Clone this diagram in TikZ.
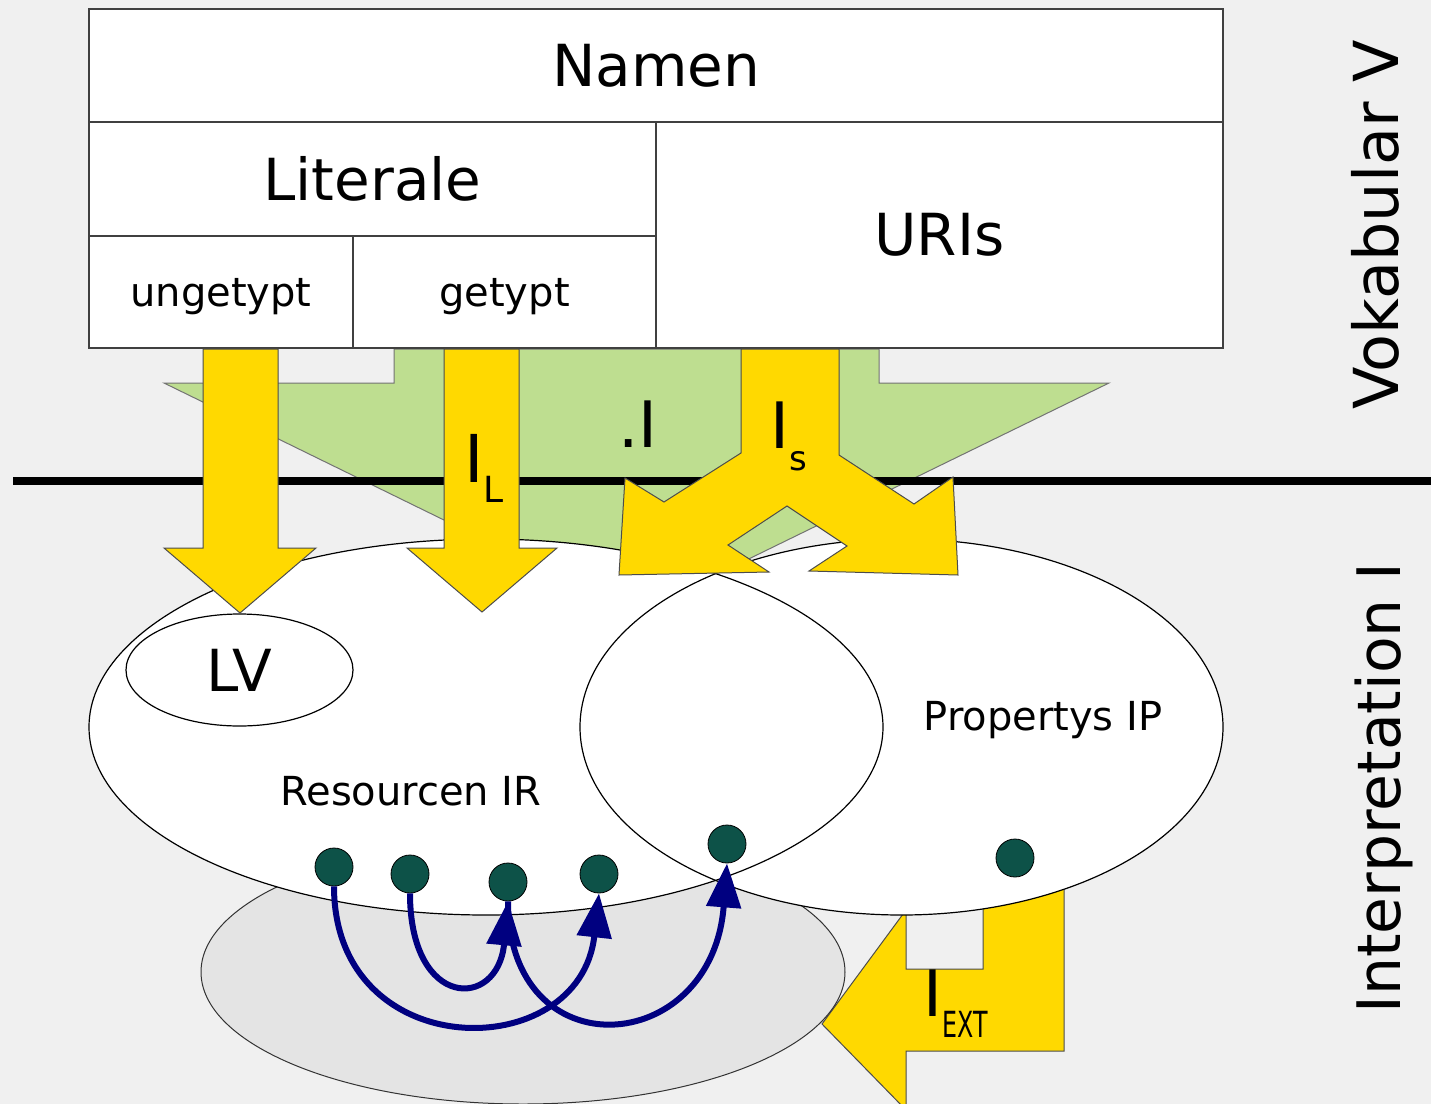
\documentclass[tikz,border=0pt]{standalone}
\usepackage{fontspec}
\setmainfont{DejaVu Sans}
\usetikzlibrary{shapes.geometric,arrows.meta}
\definecolor{bgc}{RGB}{240,240,240}
\definecolor{lgreen}{RGB}{190,222,144}
\definecolor{ayellow}{RGB}{255,217,0}
\definecolor{ellgray}{RGB}{228,228,228}
\definecolor{dotgreen}{RGB}{13,82,72}
\definecolor{navyblue}{RGB}{0,0,128}
\newcommand\fsz[1]{\fontsize{#1}{#1}\selectfont}
\begin{document}
\begin{tikzpicture}[x=0.5pt,y=-0.5pt,
  cell/.style={draw=black!75, line width=0.6pt, fill=white, inner sep=0pt, anchor=center},
  yarrow/.style={fill=ayellow, draw=black!70, line width=0.5pt},
  gdot/.style={circle, fill=dotgreen, draw=black, line width=0.4pt, inner sep=0pt, minimum size=19pt},
  rel/.style={draw=navyblue, line width=3pt, -{Triangle[length=22pt,width=17pt]}},
  blob/.style={ellipse, fill=white, inner sep=0pt},
  outl/.style={draw=black, line width=0.6pt}
]
\useasboundingbox (0,0) rectangle (1431,1104);
\fill[bgc] (0,0) rectangle (1431,1104);
\clip (0,0) rectangle (1431,1104);

% green arrow (.I)
\draw[fill=lgreen, draw=black!55, line width=0.5pt] (394,349) -- (879,349) -- (879,383) -- (1109,383) -- (636,614) -- (164,383) -- (394,383) -- cycle;

% vocabulary boxes
\node[cell, minimum width=567pt, minimum height=56.5pt, font=\fsz{29pt}] (namen) at (656,65.5) {Namen};
\node[cell, minimum width=283.5pt, minimum height=57pt, font=\fsz{29pt}] (literale) at (372.5,179) {Literale};
\node[cell, minimum width=283.5pt, minimum height=113pt, font=\fsz{29pt}] (uris) at (939.5,235) {URIs};
\node[cell, minimum width=132pt, minimum height=56pt, font=\fsz{20pt}, text depth=0pt] (unget) at (221,292) {ungetypt};
\node[cell, minimum width=151.5pt, minimum height=56pt, font=\fsz{20pt}, text depth=0pt] (get) at (504.5,292) {getypt};

% I_EXT arrow
\draw[yarrow] (1064,850) -- (1064,1051) -- (906,1051) -- (906,1110) -- (822,1024) -- (906,910) -- (906,969) -- (983,969) -- (983,850) -- cycle;

% grey ellipse
\node[ellipse, fill=ellgray, draw=black!80, line width=0.5pt, minimum width=322pt, minimum height=132pt, inner sep=0pt] (ext) at (523,972) {};

% white ellipses
\node[blob, minimum width=397pt, minimum height=188pt] (IR) at (486,727) {};
\node[blob, minimum width=321.5pt, minimum height=188pt] (IP) at (901.5,727) {};
\draw[outl] (IR.center) ellipse [x radius=397, y radius=188];
\draw[outl] (IP.center) ellipse [x radius=321.5, y radius=188];
\node[ellipse, fill=white, outl, minimum width=113.5pt, minimum height=56pt, inner sep=0pt, font=\fsz{29pt}] (LV) at (239.5,670) {LV};

\node[font=\fsz{20pt}] (irlabel) at (411,791) {Resourcen IR};
\node[font=\fsz{20pt}, anchor=base] (iplabel) at (1043,730) {Propertys IP};

% separator line
\draw[line width=4pt] (13,481) -- (1431,481);

% yellow arrows
\draw[yarrow] (203,349) -- (203,548) -- (164,548) -- (240,613) -- (316,548) -- (278,548) -- (278,349) -- cycle;
\draw[yarrow] (444,349) -- (444,548) -- (407,548) -- (482,612) -- (557,548) -- (519,548) -- (519,349) -- cycle;
\draw[yarrow] (741,349) -- (741,453) -- (664,502) -- (625,478) -- (619,575) -- (769,572) -- (728,545) -- (787,506) -- (847,546) -- (809,571) -- (958,575) -- (953,477) -- (914,504) -- (839,455) -- (839,349) -- cycle;

% mapping labels
\node[anchor=base, font=\fsz{32pt}, inner sep=0pt] (dotI) at (638,447) {.I};
\node[anchor=base, font=\fsz{33pt}, inner sep=0pt] (IL) at (484,482) {I\raisebox{-10pt}{\fsz{18pt}L}};
\node[anchor=base, font=\fsz{32pt}, inner sep=0pt] (Is) at (789,448) {I\raisebox{-11pt}{\fsz{17pt}s}};
\node[anchor=base, font=\fsz{32pt}, inner sep=0pt] (Iext) at (956,1016) {I\raisebox{-10.5pt}{\fsz{18pt}\scalebox{0.66}[1]{EXT}}};

% side labels
\node[rotate=90, anchor=base, font=\fsz{31pt}] (vok) at (1398,225) {Vokabular V};
\node[rotate=90, anchor=base, font=\fsz{30pt}] (interp) at (1400,788) {Interpretation I};

% dots
\node[gdot] (d1) at (334,867) {};
\node[gdot] (d2) at (410,874) {};
\node[gdot] (d3) at (508,882) {};
\node[gdot] (d4) at (599,874) {};
\node[gdot] (d5) at (727,844) {};
\node[gdot] (d6) at (1015,858) {};

% relations
\draw[rel] (d1.south) .. controls (334,1066) and (580,1066) .. (d4.south);
\draw[rel] (d2.south) .. controls (410,1010) and (498,1010) .. (d3.south);
\draw[rel] (d3.south) .. controls (508,1072) and (712,1058) .. (d5.south);
\end{tikzpicture}
\end{document}
